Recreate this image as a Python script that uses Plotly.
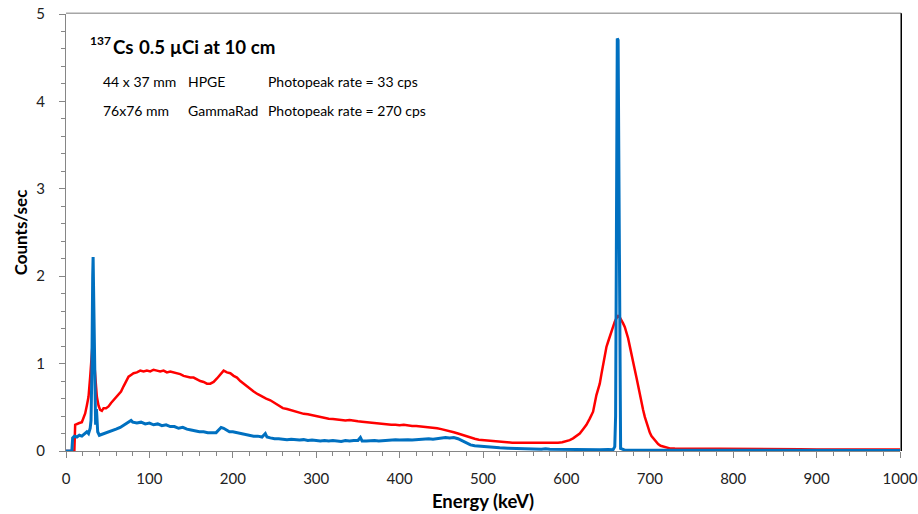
import plotly.graph_objects as go

# ---------------- data ----------------
red_energy = [0, 10, 11, 13, 16, 19, 21, 23, 25, 27, 29, 30, 31, 32, 33, 34, 35, 37, 39, 41,
              43, 45, 48, 51, 54, 57, 60, 63, 66, 69, 72, 75, 78, 81, 85, 89, 93, 97, 101, 105,
              109, 113, 117, 121, 125, 129, 133, 137, 141, 145, 149, 153, 157, 161, 165, 169, 173, 177, 181, 185,
              189, 193, 197, 201, 205, 209, 213, 217, 221, 225, 230, 235, 240, 245, 250, 255, 260, 265, 270, 275,
              280, 285, 290, 295, 300, 305, 310, 315, 320, 325, 330, 335, 340, 345, 350, 355, 360, 365, 370, 375,
              380, 385, 390, 395, 400, 405, 410, 415, 420, 425, 430, 435, 440, 445, 450, 455, 460, 465, 470, 475,
              480, 485, 490, 495, 500, 505, 510, 515, 520, 525, 530, 535, 540, 545, 550, 555, 560, 565, 570, 575,
              580, 585, 590, 595, 600, 604, 608, 612, 616, 620, 624, 628, 632, 636, 640, 642, 644, 646, 648, 650,
              652, 654, 656, 658, 660, 662, 664, 666, 668, 670, 672, 674, 676, 678, 680, 682, 684, 686, 688, 690,
              692, 694, 696, 698, 700, 702, 704, 707, 710, 713, 716, 720, 724, 730, 740, 750, 760, 770, 780, 790,
              800, 820, 840, 860, 880, 900, 920, 940, 960, 980, 1000]
red_counts = [0, 0, 0.30, 0.31, 0.32, 0.33, 0.37, 0.43, 0.52, 0.62, 0.85, 1.00, 1.22, 1.25, 1.12, 0.96, 0.82, 0.62, 0.52, 0.47,
              0.46, 0.49, 0.49, 0.51, 0.55, 0.58, 0.61, 0.64, 0.68, 0.74, 0.79, 0.85, 0.87, 0.89, 0.90, 0.92, 0.91, 0.92, 0.91, 0.93,
              0.92, 0.91, 0.92, 0.90, 0.91, 0.90, 0.89, 0.88, 0.86, 0.85, 0.84, 0.84, 0.82, 0.80, 0.79, 0.77, 0.77, 0.79, 0.83, 0.87,
              0.92, 0.90, 0.89, 0.86, 0.84, 0.80, 0.77, 0.73, 0.70, 0.68, 0.65, 0.62, 0.60, 0.58, 0.55, 0.52, 0.49, 0.48, 0.465, 0.45,
              0.44, 0.425, 0.42, 0.41, 0.40, 0.385, 0.375, 0.37, 0.365, 0.36, 0.355, 0.35, 0.355, 0.345, 0.34, 0.335, 0.33, 0.325, 0.315, 0.31,
              0.31, 0.305, 0.30, 0.30, 0.295, 0.30, 0.29, 0.285, 0.285, 0.28, 0.28, 0.275, 0.27, 0.26, 0.25, 0.24, 0.23, 0.215, 0.20, 0.185,
              0.165, 0.15, 0.14, 0.13, 0.125, 0.12, 0.115, 0.11, 0.105, 0.10, 0.10, 0.095, 0.095, 0.095, 0.09, 0.09, 0.088, 0.088, 0.09, 0.09,
              0.092, 0.095, 0.095, 0.10, 0.11, 0.125, 0.145, 0.17, 0.20, 0.25, 0.30, 0.37, 0.45, 0.64, 0.77, 0.88, 1.00, 1.10, 1.19, 1.25,
              1.31, 1.37, 1.44, 1.48, 1.52, 1.545, 1.53, 1.50, 1.46, 1.42, 1.36, 1.29, 1.20, 1.12, 1.02, 0.93, 0.84, 0.74, 0.64, 0.55,
              0.47, 0.39, 0.32, 0.26, 0.21, 0.17, 0.145, 0.11, 0.08, 0.06, 0.05, 0.037, 0.03, 0.028, 0.027, 0.028, 0.025, 0.022, 0.021, 0.020,
              0.020, 0.019, 0.020, 0.018, 0.019, 0.018, 0.019, 0.018, 0.018, 0.019, 0.018]

blue_energy = [0, 7, 8, 10, 13, 16, 19, 22, 25, 27, 29, 30, 31, 32, 32.5, 33, 34, 35, 35.5, 36,
               36.5, 37, 38, 40, 43, 46, 50, 55, 60, 65, 70, 75, 78, 80, 85, 90, 95, 100, 105, 110,
               115, 120, 125, 130, 135, 140, 145, 150, 155, 160, 165, 170, 175, 180, 183, 186, 189, 192, 196, 200,
               205, 210, 215, 220, 225, 230, 235, 239, 241, 245, 250, 255, 260, 265, 270, 275, 280, 285, 290, 295,
               300, 305, 310, 315, 320, 325, 330, 335, 340, 345, 350, 353, 355, 360, 365, 370, 375, 380, 385, 390,
               395, 400, 405, 410, 415, 420, 425, 430, 435, 440, 445, 450, 455, 460, 465, 470, 475, 480, 485, 490,
               495, 500, 510, 520, 530, 540, 550, 560, 570, 575, 580, 590, 600, 610, 620, 630, 640, 650, 656, 658,
               659, 660, 661, 662, 663, 664, 665, 670, 680, 700, 720, 740, 760, 780, 800, 820, 840, 860, 880, 900,
               920, 940, 960, 980, 1000]
blue_counts = [0, 0, 0.15, 0.17, 0.16, 0.18, 0.17, 0.20, 0.22, 0.20, 0.26, 0.35, 0.90, 2.00, 2.22, 1.90, 0.90, 0.35, 0.30, 0.42,
               0.48, 0.40, 0.22, 0.18, 0.19, 0.20, 0.21, 0.23, 0.25, 0.27, 0.30, 0.33, 0.35, 0.33, 0.32, 0.33, 0.31, 0.32, 0.30, 0.31,
               0.29, 0.30, 0.28, 0.28, 0.26, 0.27, 0.25, 0.24, 0.23, 0.22, 0.22, 0.21, 0.21, 0.21, 0.24, 0.27, 0.26, 0.24, 0.22, 0.22,
               0.21, 0.20, 0.19, 0.18, 0.17, 0.17, 0.16, 0.20, 0.16, 0.15, 0.14, 0.14, 0.135, 0.13, 0.135, 0.13, 0.125, 0.13, 0.12, 0.125,
               0.12, 0.115, 0.12, 0.115, 0.12, 0.115, 0.11, 0.12, 0.115, 0.12, 0.12, 0.155, 0.115, 0.115, 0.12, 0.12, 0.115, 0.12, 0.125, 0.125,
               0.13, 0.125, 0.13, 0.13, 0.125, 0.13, 0.13, 0.135, 0.14, 0.135, 0.14, 0.15, 0.155, 0.15, 0.155, 0.14, 0.115, 0.09, 0.07, 0.06,
               0.055, 0.05, 0.045, 0.037, 0.032, 0.026, 0.024, 0.022, 0.020, 0.025, 0.020, 0.018, 0.020, 0.018, 0.015, 0.017, 0.015, 0.016, 0.015, 0.05,
               0.40, 2.50, 4.72, 4.70, 3.00, 0.60, 0.03, 0.010, 0.010, 0.008, 0.010, 0.008, 0.009, 0.008, 0.007, 0.009, 0.008, 0.007, 0.008, 0.008,
               0.007, 0.008, 0.007, 0.008, 0.007]

x_ticks = [0, 100, 200, 300, 400, 500, 600, 700, 800, 900, 1000]
y_ticks = [0, 1, 2, 3, 4, 5]

FONT = "Lato"

fig = go.Figure()
fig.add_trace(go.Scatter(x=red_energy, y=red_counts, mode="lines",
                         line=dict(color="#FF0000", width=2.5), name="GammaRad", hoverinfo="skip"))
fig.add_trace(go.Scatter(x=blue_energy, y=blue_counts, mode="lines",
                         line=dict(color="#0070C0", width=3), name="HPGE", hoverinfo="skip"))

axis_common = dict(showgrid=False, zeroline=False, showline=True, linecolor="#868686", linewidth=1,
                   ticks="outside", tickcolor="#868686", ticklen=6, tickwidth=1, automargin=False,
                   ticklabeloverflow="allow",
                   tickfont=dict(family=FONT, size=15, color="#222222"))

fig.update_xaxes(range=[0, 1000], tickvals=x_ticks, ticktext=[str(v) for v in x_ticks],
                 minor=dict(dtick=20, ticks="outside", ticklen=4, tickcolor="#868686"),
                 ticklabelstandoff=8,
                 title=dict(text="<b>Energy (keV)</b>", font=dict(family=FONT, size=18.5, color="#000000"), standoff=9),
                 **axis_common)
fig.update_yaxes(range=[0, 5], tickvals=y_ticks, ticktext=[str(v) for v in y_ticks],
                 minor=dict(dtick=0.2, ticks="outside", ticklen=4, tickcolor="#868686"),
                 ticklabelstandoff=11,
                 title=dict(text="<b>Counts/sec</b>", font=dict(family=FONT, size=17, color="#000000"), standoff=4),
                 **axis_common)

ann_font = dict(family=FONT, size=14, color="#000000")
title_font = dict(family=FONT, size=18.7, color="#000000")
anns = [
    dict(x=27.6, y=4.694, text="<b>137</b>", font=dict(family=FONT, size=12, color="#000000")),
    dict(x=54.8, y=4.626, text="<b>Cs</b>", font=title_font),
    dict(x=86.7, y=4.626, text="<b>0.5 µCi at 10 cm</b>", font=title_font),
    dict(x=43.2, y=4.225, text="44 x 37 mm", font=ann_font),
    dict(x=144.8, y=4.225, text="HPGE", font=ann_font),
    dict(x=241.4, y=4.225, text="Photopeak rate = 33 cps", font=ann_font),
    dict(x=43.2, y=3.894, text="76x76 mm", font=ann_font),
    dict(x=144.8, y=3.894, text="GammaRad", font=ann_font),
    dict(x=241.4, y=3.894, text="Photopeak rate = 270 cps", font=ann_font),
]
for a in anns:
    fig.add_annotation(xref="x", yref="y", xanchor="left", yanchor="middle", showarrow=False,
                       borderpad=0, **a)

# plot-area frame (top grey, right black)
fig.add_shape(type="line", xref="x domain", yref="y domain", x0=0, x1=1.0015, y0=1.002, y1=1.002,
              line=dict(color="#A6A6A6", width=1.5))
fig.add_shape(type="line", xref="x domain", yref="y domain", x0=1.0015, x1=1.0015, y0=0, y1=1.002,
              line=dict(color="#000000", width=1.5))

fig.update_layout(width=918, height=514, margin=dict(l=66, r=18, t=14, b=63, autoexpand=False),
                  plot_bgcolor="white", paper_bgcolor="white", showlegend=False,
                  font=dict(family=FONT))

fig.write_html("out.html", config={"displayModeBar": False},
               post_script="document.body.style.margin='0';document.body.style.overflow='hidden';")
